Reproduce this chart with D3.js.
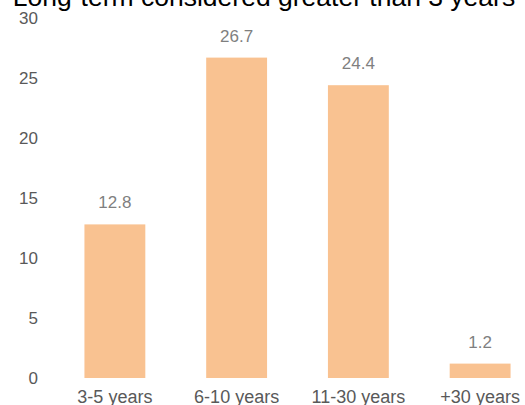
<!DOCTYPE html>
<html>
<head>
<meta charset="utf-8">
<script src="https://cdn.jsdelivr.net/npm/d3@7"></script>
<style>
  body { margin: 0; background: #fff; }
  svg { display: block; font-family: "Liberation Sans", Arial, sans-serif; }
</style>
</head>
<body>
<svg id="chart" width="525" height="405"></svg>
<script>
var categories = ["3-5 years", "6-10 years", "11-30 years", "+30 years"];
var values = [12.8, 26.7, 24.4, 1.2];
var yTicks = [0, 5, 10, 15, 20, 25, 30];
var title = "Long-term considered greater than 3 years";

var svg = d3.select("#chart");

var x = d3.scaleBand()
  .domain(categories)
  .range([54, 541])
  .paddingInner(0.5)
  .paddingOuter(0.25);

var y = d3.scaleLinear()
  .domain([0, 30])
  .range([378, 18]);

// title (partly cut off at the top, as in the original)
svg.append("text")
  .attr("x", 264)
  .attr("y", 6)
  .attr("text-anchor", "middle")
  .attr("font-size", 26.5)
  .attr("fill", "#000")
  .text(title);

// y axis labels, no line
var yAxis = svg.append("g")
  .attr("transform", "translate(44,0)")
  .call(d3.axisLeft(y).tickValues(yTicks).tickSize(0).tickPadding(6));
yAxis.select(".domain").remove();
yAxis.selectAll("text")
  .attr("font-size", 17)
  .attr("font-family", "Liberation Sans, Arial, sans-serif")
  .attr("fill", "#595959");

// x axis labels
var xAxis = svg.append("g")
  .attr("transform", "translate(0,378)")
  .call(d3.axisBottom(x).tickSize(0).tickPadding(12));
xAxis.select(".domain").remove();
xAxis.selectAll("text")
  .attr("font-size", 18)
  .attr("font-family", "Liberation Sans, Arial, sans-serif")
  .attr("fill", "#595959");

// bars
svg.append("g")
  .selectAll("rect")
  .data(values)
  .enter().append("rect")
  .attr("x", function(d, i) { return x(categories[i]); })
  .attr("y", function(d) { return y(d); })
  .attr("width", x.bandwidth())
  .attr("height", function(d) { return y(0) - y(d); })
  .attr("fill", "#F9C291");

// value labels
svg.append("g")
  .selectAll("text")
  .data(values)
  .enter().append("text")
  .attr("x", function(d, i) { return x(categories[i]) + x.bandwidth() / 2; })
  .attr("y", function(d) { return y(d) - 16; })
  .attr("text-anchor", "middle")
  .attr("font-size", 17)
  .attr("fill", "#7f7f7f")
  .text(function(d) { return d.toFixed(1); });
</script>
</body>
</html>
